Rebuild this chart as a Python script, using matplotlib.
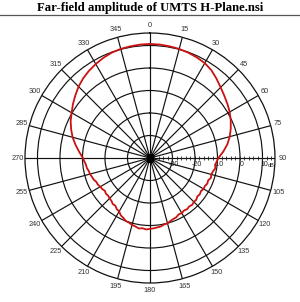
import numpy as np
import matplotlib
matplotlib.use("Agg")
import matplotlib.pyplot as plt
from matplotlib.transforms import offset_copy

title = "Far-field amplitude of UMTS H-Plane.nsi"

angles_deg = [0, 5, 10, 15, 20, 25, 30, 35, 40, 45, 50, 55, 60, 65, 70, 75, 80, 85, 90,
              93, 96, 99, 102, 105, 108, 111, 114, 117, 120, 123, 126, 129, 132, 135,
              138, 141, 144, 147, 150, 153, 156, 159, 162, 165, 168, 171, 174, 177, 180,
              183, 186, 189, 192, 195, 198, 201, 204, 207, 210, 213, 216, 219, 222, 225,
              228, 231, 234, 237, 240, 243, 246, 249, 252, 255, 258, 261, 264, 267, 270,
              275, 280, 285, 290, 295, 300, 305, 310, 315, 320, 325, 330, 335, 340, 345,
              350, 355, 360]
gain_dbi = [10.7, 10.6, 10.4, 10.2, 9.8, 9.3, 8.7, 7.6, 6.0, 4.4, 3.1, 2.0, 0.9, -0.4, -1.8,
            -3.3, -5.1, -7.3, -9.6,
            -10.3, -10.9, -10.6, -11.4, -11.8, -11.5, -12.3, -12.1, -12.6, -12.5, -13.0,
            -12.6, -12.9, -12.3, -12.4, -12.0, -12.3, -11.9, -12.2, -11.7, -11.9, -11.2,
            -11.0, -10.6, -9.9, -9.8, -9.2, -9.0, -8.7, -8.5,
            -8.2, -8.6, -8.3, -8.9, -9.2, -9.8, -10.0, -10.9, -11.4, -12.6, -12.9, -13.8,
            -13.7, -14.4, -14.6, -15.0, -14.8, -15.2, -14.7, -14.5, -14.0, -13.9, -13.2,
            -12.9, -12.4, -12.2, -11.6, -11.4, -10.8, -10.2,
            -8.4, -6.4, -4.4, -2.7, -1.1, 0.2, 1.8, 3.3, 4.9, 6.2, 7.3, 8.2, 9.1, 9.8, 10.2,
            10.4, 10.6, 10.7]

ring_values = [-30, -20, -10, 0, 10]
ring_labels = ["-30", "-20", "-10", "0", "10"]
angle_ticks = list(range(0, 360, 15))
r_min, r_max = -40, 15.55

fig = plt.figure(figsize=(3.0, 3.02), dpi=100)
fig.patch.set_facecolor("white")

fig.text(0.5, 1 - 8 / 302, title, ha="center", va="center",
         fontfamily="Liberation Serif", fontweight="bold", fontsize=9.2)
fig.add_artist(plt.Line2D([0, 1], [1 - 14.5 / 302] * 2, color="#555555", lw=0.9,
                          transform=fig.transFigure))

ax = fig.add_axes([0.0833, 0.0629, 0.8333, 0.8278], projection="polar")
ax.set_theta_zero_location("N")
ax.set_theta_direction(-1)
ax.set_ylim(r_min, r_max)

ax.set_thetagrids(angle_ticks, [str(a) for a in angle_ticks], fontsize=5.3,
                  fontfamily="Liberation Sans", color="#333333")
ax.set_xticks(np.deg2rad(np.arange(0, 360, 5)), minor=True)
ax.tick_params(axis="x", which="major", pad=-1.5, length=3.5, width=0.8,
               direction="in", color="black")
ax.tick_params(axis="x", which="minor", length=3.5, width=0.8, direction="in",
               color="black")
ax.set_yticks(ring_values)
ax.set_yticklabels([])
ax.grid(True, color="#111111", lw=0.85)
ax.spines["polar"].set_color("#111111")
ax.spines["polar"].set_linewidth(0.9)

# small ticks along the 90 degree radius
rt = np.arange(-38, 15, 2)
ax.plot(np.full(len(rt), np.pi / 2), rt, ls="none", marker="|", ms=2.5, mew=0.6,
        color="#222222", zorder=3)
# dense hub where the spokes meet
ax.plot([0], [r_min], ls="none", marker="s", ms=4, color="black", zorder=3)

tr = offset_copy(ax.transData, fig=fig, x=1.2, y=-4.5, units="points")
for v, lab in zip(ring_values, ring_labels):
    ax.text(np.pi / 2, v, lab, transform=tr, ha="center", va="center",
            fontsize=5, fontfamily="Liberation Sans", color="#222222", zorder=4)
tr2 = offset_copy(ax.transData, fig=fig, x=7.0, y=-5.5, units="points")
ax.text(np.pi / 2, 10, "dBi", transform=tr2, ha="center", va="center",
        fontsize=4, fontfamily="Liberation Sans", color="#222222", zorder=4)

ax.plot(np.deg2rad(angles_deg), gain_dbi, color="#cc1111", lw=1.3, zorder=5)

fig.savefig("out.png", dpi=100, facecolor="white")
